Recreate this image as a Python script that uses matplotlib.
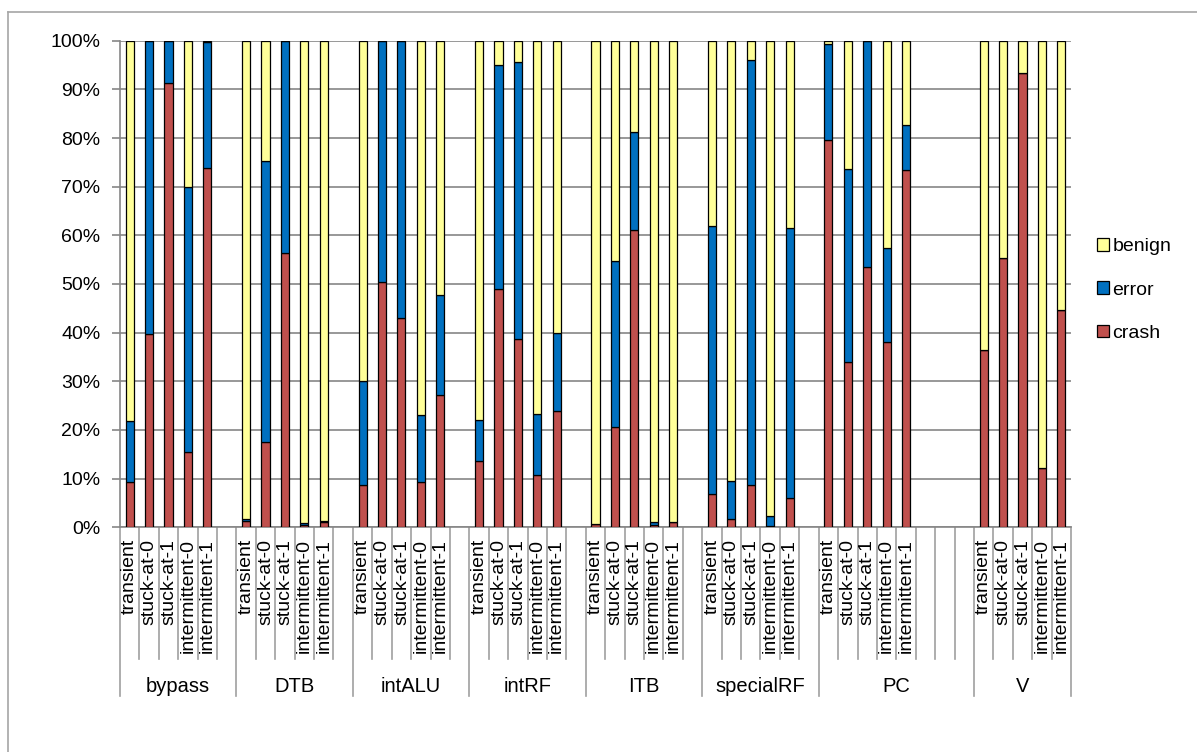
import matplotlib
matplotlib.use("Agg")
import matplotlib.pyplot as plt
from matplotlib.patches import Patch
from matplotlib.lines import Line2D

plt.rcParams["font.family"] = ["Liberation Sans", "DejaVu Sans"]

# Components and the number of category slots each one occupies on the axis
components = ["bypass", "DTB", "intALU", "intRF", "ITB", "specialRF", "PC", "V"]
slots_per_component = [6, 6, 6, 6, 6, 6, 8, 5]
fault_types = ["transient", "stuck-at-0", "stuck-at-1", "intermittent-0", "intermittent-1"]

# Outcome shares (%) per component, in fault_types order
crash = [
    [9.3, 39.7, 91.3, 15.5, 73.9],    # bypass
    [1.2, 17.5, 56.4, 0.5, 1.0],      # DTB
    [8.6, 50.5, 43.0, 9.4, 27.2],     # intALU
    [13.6, 48.9, 38.7, 10.7, 23.8],   # intRF
    [0.7, 20.6, 61.0, 0.5, 1.1],      # ITB
    [6.8, 1.7, 8.6, 0.3, 6.0],        # specialRF
    [79.5, 34.0, 53.4, 38.0, 73.5],   # PC
    [36.4, 55.4, 93.4, 12.2, 44.7],   # V
]
error = [
    [12.6, 60.3, 8.7, 54.5, 25.8],
    [0.5, 57.8, 43.6, 0.3, 0.3],
    [21.5, 49.5, 57.0, 13.6, 20.5],
    [8.4, 46.2, 57.0, 12.6, 16.2],
    [0.0, 34.2, 20.2, 0.5, 0.0],
    [55.2, 7.9, 87.4, 2.1, 55.5],
    [19.8, 39.6, 46.6, 19.4, 9.2],
    [0.0, 0.0, 0.0, 0.0, 0.0],
]
benign = [
    [78.1, 0.0, 0.0, 30.0, 0.3],
    [98.3, 24.7, 0.0, 99.2, 98.7],
    [69.9, 0.0, 0.0, 77.0, 52.3],
    [78.0, 4.9, 4.3, 76.7, 60.0],
    [99.3, 45.2, 18.8, 99.0, 98.9],
    [38.0, 90.4, 4.0, 97.6, 38.5],
    [0.7, 26.4, 0.0, 42.6, 17.3],
    [63.6, 44.6, 6.6, 87.8, 55.3],
]

C_CRASH = "#C0504D"
C_ERROR = "#0070C0"
C_BENIGN = "#FFFF99"
GRID = "#868686"

W, H = 1197, 752
fig = plt.figure(figsize=(W / 100, H / 100), dpi=100)
ax = fig.add_axes([120 / W, (H - 527.3) / H, 951 / W, 486.6 / H])

total_slots = sum(slots_per_component)
bar_w = 0.42
start = 0
group_edges = [0]
for g, n in enumerate(slots_per_component):
    for k in range(len(fault_types)):
        x = start + k + 0.5
        c, e, b = crash[g][k], error[g][k], benign[g][k]
        s = c + e + b
        c, e, b = c / s, e / s, b / s
        kw = dict(width=bar_w, edgecolor="black", linewidth=0.9, zorder=3)
        ax.bar(x, c, color=C_CRASH, **kw)
        ax.bar(x, e, bottom=c, color=C_ERROR, **kw)
        ax.bar(x, b, bottom=c + e, color=C_BENIGN, **kw)
    start += n
    group_edges.append(start)

ax.set_xlim(0, total_slots)
ax.set_ylim(0, 1)
ax.set_yticks([i / 10 for i in range(11)])
ax.set_yticklabels([f"{i * 10}%" for i in range(11)], fontsize=14)
ax.yaxis.grid(True, color=GRID, linewidth=1.2, zorder=0)
ax.set_axisbelow(True)
ax.tick_params(axis="y", length=6, width=1.2, color=GRID, pad=8)
ax.set_xticks([])
for side in ("top", "right"):
    ax.spines[side].set_visible(False)
for side in ("left", "bottom"):
    ax.spines[side].set_color(GRID)
    ax.spines[side].set_linewidth(1.2)

# Multi-level category axis: slot separators, fault labels, component labels
xt = ax.get_xaxis_transform()
y_inner = -(659 - 527.3) / 486.6
y_outer = -(696 - 527.3) / 486.6
for s in range(total_slots + 1):
    depth = y_outer if s in group_edges else y_inner
    ax.plot([s, s], [0, depth], transform=xt, color="#A0A0A0", lw=1.2,
            clip_on=False, zorder=1)

start = 0
for g, n in enumerate(slots_per_component):
    for k, ft in enumerate(fault_types):
        ax.text(start + k + 0.5, -(539 - 527.3) / 486.6, ft, transform=xt,
                rotation=90, ha="center", va="top", fontsize=14)
    ax.text(start + n / 2, -(686 - 527.3) / 486.6, components[g], transform=xt,
            ha="center", va="center", fontsize=14.5)
    start += n

handles = [Patch(facecolor=C_BENIGN, edgecolor="black", linewidth=0.9),
           Patch(facecolor=C_ERROR, edgecolor="black", linewidth=0.9),
           Patch(facecolor=C_CRASH, edgecolor="black", linewidth=0.9)]
fig.legend(handles, ["benign", "error", "crash"], loc="center left",
           bbox_to_anchor=(1097 / W, 1 - 290 / H), frameon=False, fontsize=14,
           handlelength=0.6, handleheight=0.6, handletextpad=0.2,
           labelspacing=1.35, borderpad=0, borderaxespad=0)

# Chart frame
fig.add_artist(Line2D([8 / W, 1.0], [1 - 12 / H, 1 - 12 / H], color="#A6A6A6", lw=1.2))
fig.add_artist(Line2D([8 / W, 8 / W], [0.0, 1 - 12 / H], color="#A6A6A6", lw=1.2))

fig.savefig("out.png", dpi=100)
